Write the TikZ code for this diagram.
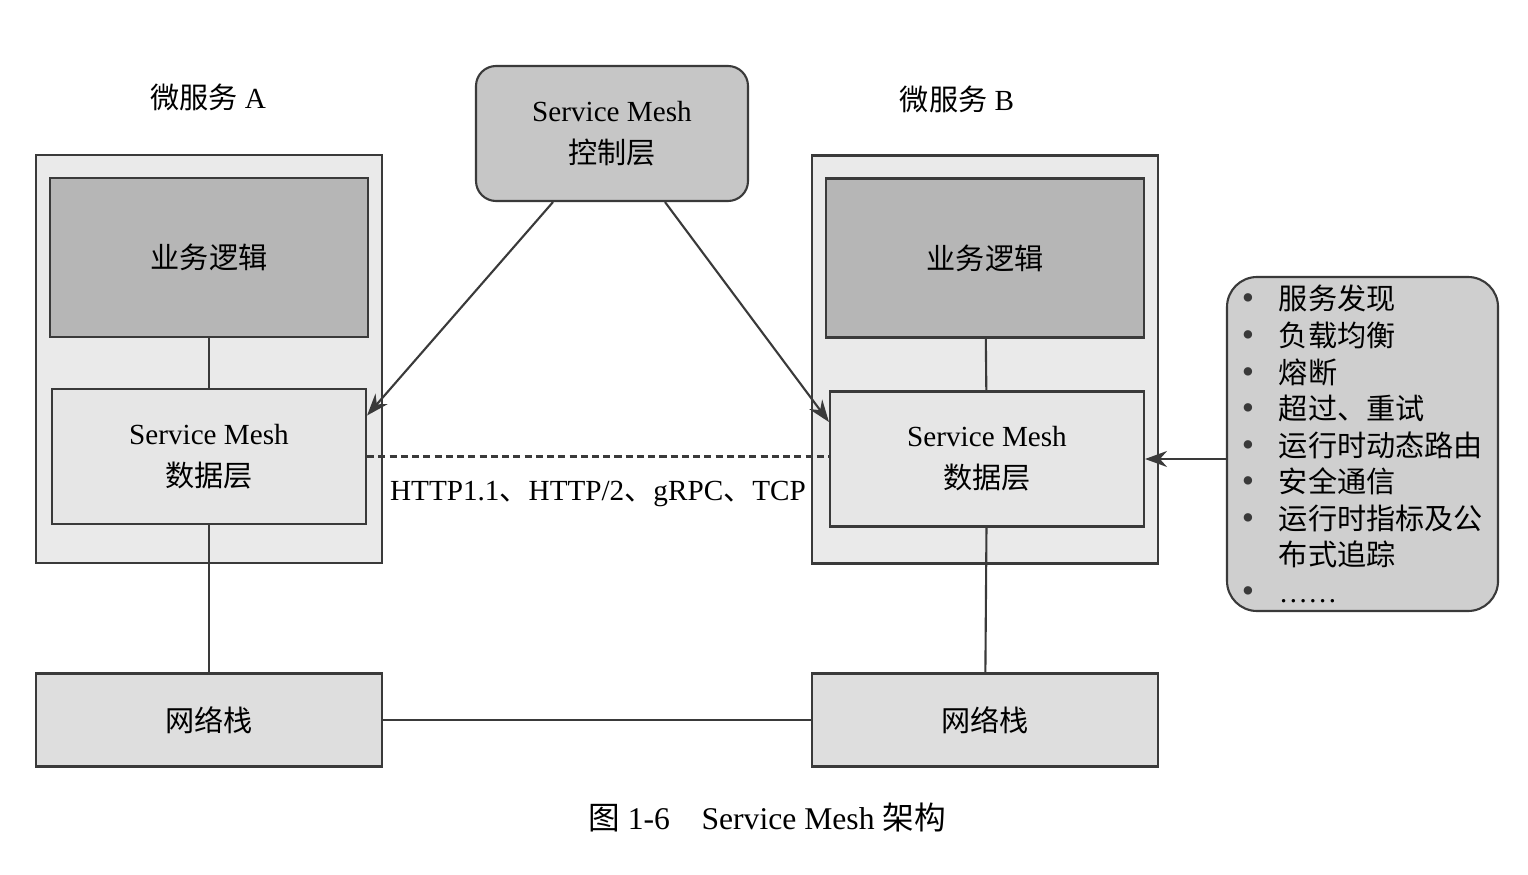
\documentclass[tikz,border=0pt]{standalone}
\usepackage{fontspec}
\setmainfont{Liberation Serif}
\newfontfamily\cjk{Noto Sans CJK SC}
\usetikzlibrary{arrows.meta,calc}

\definecolor{bordo}{HTML}{3A3A3A}
\definecolor{esternogrigio}{HTML}{EAEAEA}
\definecolor{logicagrigio}{HTML}{B6B6B6}
\definecolor{datigrigio}{HTML}{E6E6E6}
\definecolor{retegrigio}{HTML}{DEDEDE}
\definecolor{controllogrigio}{HTML}{C6C6C6}
\definecolor{funzionigrigio}{HTML}{CFCFCF}

\newcommand{\voce}[1]{\makebox[0.37cm][l]{\textcolor{bordo}{\fontsize{10}{10}\selectfont\textbullet}}#1}

\begin{document}
\begin{tikzpicture}[
    font=\fontsize{8.3}{12}\selectfont,
    riquadro/.style={draw=bordo, line width=0.6pt, fill=#1, inner sep=0pt, align=center},
    esterno/.style={riquadro=esternogrigio, minimum width=3.46cm, minimum height=4.08cm},
    logica/.style={riquadro=logicagrigio, minimum width=3.18cm, minimum height=1.59cm},
    dati/.style={riquadro=datigrigio, minimum width=3.14cm, minimum height=1.35cm},
    rete/.style={riquadro=retegrigio, minimum width=3.46cm, minimum height=0.93cm},
    linea/.style={draw=bordo, line width=0.6pt},
    freccia/.style={linea, -{Stealth[length=2.2mm,width=1.6mm]}}
  ]
    \useasboundingbox (0,0) rectangle (15.28,8.74);

    % Microservizio A
    \node[esterno] (serA) at (2.09,5.15) {};
    \node[logica] (logA) at (2.09,6.165) {\cjk 业务逻辑};
    \node[dati] (datA) at (2.09,4.175) {Service Mesh\\{\cjk 数据层}};
    \node[rete] (retA) at (2.09,1.54) {\cjk 网络栈};
    \node (titA) at (2.08,7.77) {{\cjk 微服务} A};

    % Microservizio B
    \node[esterno] (serB) at (9.85,5.145) {};
    \node[logica] (logB) at (9.85,6.16) {\cjk 业务逻辑};
    \node[dati] (datB) at (9.87,4.15) {Service Mesh\\{\cjk 数据层}};
    \node[rete] (retB) at (9.85,1.54) {\cjk 网络栈};
    \node (titB) at (9.57,7.75) {{\cjk 微服务} B};

    % Piano di controllo e funzioni
    \node[riquadro=controllogrigio, rounded corners=0.2cm, minimum width=2.72cm, minimum height=1.35cm]
      (ctrl) at (6.12,7.405) {Service Mesh\\{\cjk 控制层}};
    \node[riquadro=funzionigrigio, rounded corners=0.3cm, minimum width=2.71cm, minimum height=3.34cm,
      align=left, font=\fontsize{8.3}{10.4}\selectfont] (funz) at (13.625,4.30)
      {\voce{\cjk 服务发现}\\ \voce{\cjk 负载均衡}\\ \voce{\cjk 熔断}\\ \voce{\cjk 超过、重试}\\
       \voce{\cjk 运行时动态路由}\\ \voce{\cjk 安全通信}\\ \voce{\cjk 运行时指标及公}\\
       \hspace*{0.37cm}{\cjk 布式追踪}\\ \voce{……}};

    % Collegamenti
    \draw[linea] (logA) -- (datA);
    \draw[linea] (datA) -- (retA);
    \draw[linea] (logB) -- (datB);
    \draw[linea] (datB) -- (retB);
    \draw[linea] (retA) -- (retB);
    \draw[linea, dash pattern=on 2pt off 1.2pt] (datA.east) -- (datA.east -| datB.west)
      node[midway, below=0.12cm] (proto) {HTTP1.1{\cjk 、}HTTP/2{\cjk 、}gRPC{\cjk 、}TCP};
    \draw[freccia] ($(ctrl.south)+(-0.59,0)$) -- ($(datA.east)+(0,0.41)$);
    \draw[freccia] ($(ctrl.south)+(0.53,0)$) -- ($(datB.west)+(0,0.37)$);
    \draw[freccia] (funz.west |- datB.east) -- (datB.east);

    % Didascalia
    \node[font=\fontsize{9}{11}\selectfont] (dida) at (7.67,0.57) {{\cjk 图} 1-6\hspace{1em}Service Mesh {\cjk 架构}};
\end{tikzpicture}
\end{document}
